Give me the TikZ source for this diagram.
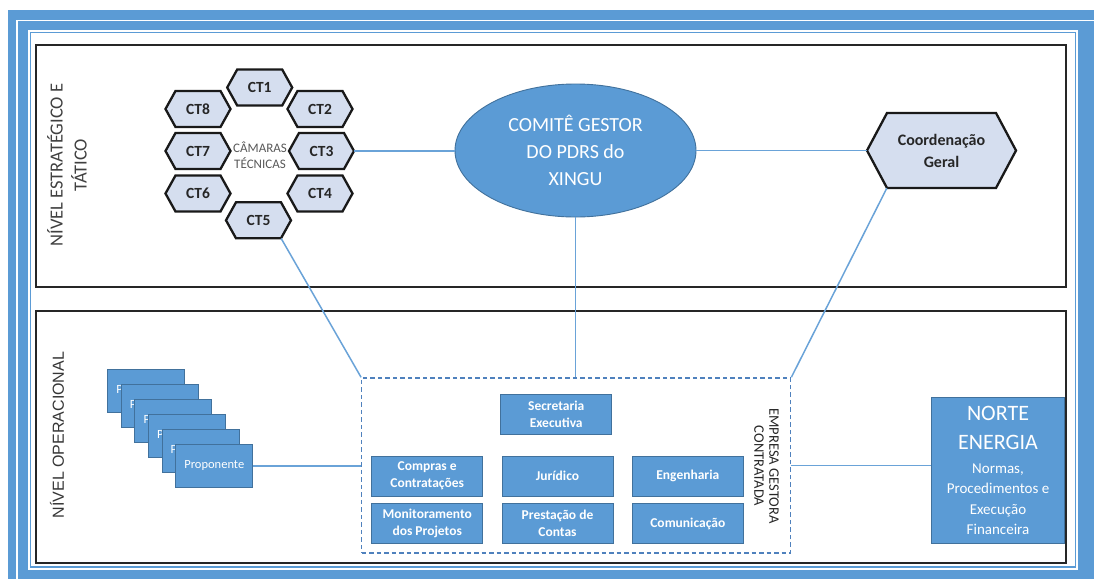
\documentclass[tikz,border=0pt]{standalone}
\usepackage{fontspec}
\setmainfont{Carlito}
\newfontfamily\arialfont{Liberation Sans}
\usetikzlibrary{shapes.geometric}

\definecolor{frameblue}{HTML}{5B9BD5}
\definecolor{boxblue}{HTML}{5B9BD5}
\definecolor{boxedge}{HTML}{41719C}
\definecolor{hexfill}{HTML}{D5DEEF}
\definecolor{linkblue}{HTML}{6AA3D8}
\definecolor{dashblue}{HTML}{4F81BD}
\definecolor{labelgray}{HTML}{404040}
\definecolor{textdark}{HTML}{262626}

\tikzset{
  hexbody/.style={fill=hexfill, draw=black!90, line width=2.3pt, line join=miter},
  hextext/.style={inner sep=0pt, text=textdark, align=center,
    font=\fontsize{15.5}{18}\selectfont\bfseries},
  link/.style={draw=linkblue, line width=1.5pt},
  levelbox/.style={draw=black!85, line width=1.8pt, fill=white},
  bluebox/.style={rectangle, fill=boxblue, draw=boxedge, line width=0.9pt,
    text=white, align=center, inner sep=1pt},
  unitbox/.style={bluebox, minimum width=111pt, minimum height=40pt,
    font=\fontsize{13.5}{17}\selectfont\bfseries},
  propbox/.style={bluebox, minimum width=77pt, minimum height=43pt,
    font=\fontsize{12.5}{15}\selectfont},
}

% hexagon pointed left and right, with a named node carrying its text
% #1 extra options, #2 name, #3 x, #4 y, #5 half width, #6 half height, #7 tip inset, #8 text
\newcommand\hexagonnode[8]{%
  \filldraw[hexbody] ({#3-#5},#4) -- ({#3-#5+#7},{#4-#6}) -- ({#3+#5-#7},{#4-#6})
    -- ({#3+#5},#4) -- ({#3+#5-#7},{#4+#6}) -- ({#3-#5+#7},{#4+#6}) -- cycle;
  \node[hextext, minimum width={2*#5}, minimum height={2*#6}, #1] (#2) at (#3,#4) {#8};
}

\begin{document}
\begin{tikzpicture}[x=1pt,y=-1pt]
\useasboundingbox (0,0) rectangle (1094,579);

% page frame
\fill[frameblue] (8,10) rectangle (1094,579);
\draw[white, line width=1.3pt] (17,579) -- (17,20.5) -- (1094,20.5);
\fill[white] (28,30) rectangle (1078,569.5);
\draw[frameblue, line width=1.3pt] (30.5,32.5) rectangle (1075.5,567);

% the two levels
\draw[levelbox] (36,45) rectangle (1066,287);
\draw[levelbox] (36,311) rectangle (1066,563);

\node[rotate=90, align=center, text=labelgray,
      font=\fontsize{18.5}{24}\selectfont] (lvltop) at (67,165)
      {NÍVEL ESTRATÉGICO E\\TÁTICO};
\node[rotate=90, text=labelgray!85!black,
      font=\arialfont\fontsize{16}{19}\selectfont] (lvlop) at (57,435)
      {NÍVEL OPERACIONAL};

% technical chambers
\hexagonnode{}{ct1}{259.7}{87.5}{32.5}{18}{10}{CT1}
\hexagonnode{}{ct8}{198}{109}{32.5}{18}{10}{CT8}
\hexagonnode{}{ct2}{320}{109}{32.5}{18}{10}{CT2}
\hexagonnode{}{ct7}{198}{151}{32.5}{18}{10}{CT7}
\hexagonnode{}{ct3}{321.5}{151}{32.5}{18}{10}{CT3}
\hexagonnode{}{ct6}{198}{193.5}{32.5}{18}{10}{CT6}
\hexagonnode{}{ct4}{320}{193.5}{32.5}{18}{10}{CT4}
\hexagonnode{}{ct5}{258.5}{220.3}{32.5}{18}{10}{CT5}
\node[align=center, text=black!65, inner sep=0pt,
      font=\fontsize{13}{15.5}\selectfont] (camaras) at (260,155)
      {CÂMARAS\\TÉCNICAS};

% steering committee
\node[ellipse, fill=boxblue, draw=boxedge, line width=0.9pt,
      minimum width=241pt, minimum height=133pt, inner sep=0pt,
      text=white, align=center, font=\fontsize{20}{27}\selectfont]
      (comite) at (575.5,150.5) {COMITÊ GESTOR\\DO PDRS do\\XINGU};

% general coordination
\hexagonnode{font=\fontsize{16}{22}\selectfont\bfseries}{coord}{941.5}{150.5}{74.5}{37.5}{20}{Coordenação\\Geral}

% contracted management company
\node[draw=dashblue, dash pattern=on 4.5pt off 3pt, line width=1.3pt,
      minimum width=429pt, minimum height=175pt, inner sep=0pt]
      (empresa) at (576.2,465.4) {};
\node[rotate=-90, align=center, text=textdark, inner sep=0pt,
      font=\fontsize{14.5}{15}\selectfont] (empresalabel) at (766.5,466)
      {EMPRESA GESTORA\\CONTRATADA};

\node[unitbox] (secretaria) at (556.2,414.2) {Secretaria\\Executiva};
\node[unitbox] (compras) at (427.2,476) {Compras e\\Contratações};
\node[unitbox] (juridico) at (557.5,476) {Jurídico};
\node[unitbox] (engenharia) at (687.8,476) {Engenharia};
\node[unitbox] (monitoramento) at (427.2,523.5) {Monitoramento\\dos Projetos};
\node[unitbox] (prestacao) at (557.5,523.5) {Prestação de\\Contas};
\node[unitbox] (comunicacao) at (687.8,523.5) {Comunicação};

% stack of proponents
\foreach \k in {0,...,5}
  \node[propbox] (prop\k) at ({146.2+13.62*\k},{390.7+15.02*\k}) {Proponente};

% Norte Energia
\node[bluebox, minimum width=132.6pt, minimum height=146pt,
      font=\fontsize{15}{20.5}\selectfont] (norte) at (998,470.3)
      {{\fontsize{22}{29}\selectfont NORTE}\\[9pt]{\fontsize{22}{29}\selectfont ENERGIA}\\[3pt]Normas,\\Procedimentos e\\Execução\\Financeira};

% connections
\draw[link] (ct3.east) -- (ct3.east -| comite.west);
\draw[link] (comite.east) -- (comite.east -| coord.west);
\draw[link] (comite.south) -- (comite.south |- empresa.north);
\draw[link] ([xshift=-10pt]ct5.south east) -- (empresa.north west);
\draw[link] ([xshift=20pt]coord.south west) -- (empresa.north east);
\draw[link] (prop5.east) -- (prop5.east -| empresa.west);
\draw[link] (empresa.east) -- (empresa.east -| norte.west);
\end{tikzpicture}
\end{document}
